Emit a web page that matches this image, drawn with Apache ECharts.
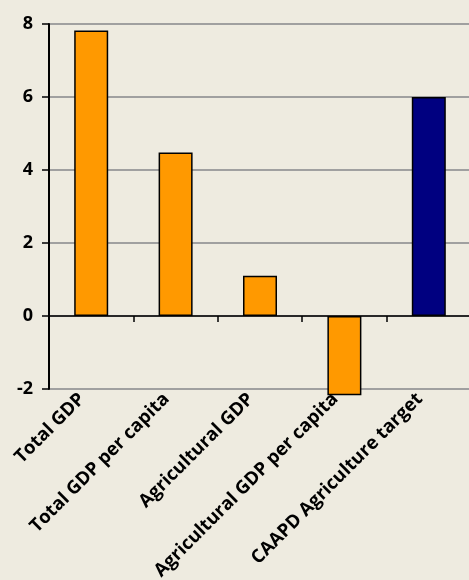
<!DOCTYPE html>
<html>
<head>
<meta charset="utf-8">
<script src="https://cdn.jsdelivr.net/npm/echarts@6/dist/echarts.min.js"></script>
<style>
html,body{margin:0;padding:0;background:#EEEBE0;}
#chart{width:469px;height:580px;}
</style>
</head>
<body>
<div id="chart"></div>
<script>
const categories = ["Total GDP", "Total GDP per capita", "Agricultural GDP", "Agricultural GDP per capita", "CAAPD Agriculture target"];
const values = [7.82, 4.48, 1.1, -2.17, 6.0];
const barColors = ["#FF9900", "#FF9900", "#FF9900", "#FF9900", "#000080"];
const yTicks = [-2, 0, 2, 4, 6, 8];

const chart = echarts.init(document.getElementById('chart'), null, {renderer: 'canvas'});
const font = '"Open Sans", "DejaVu Sans", sans-serif';
chart.setOption({
  backgroundColor: '#EEEBE0',
  animation: false,
  grid: {left: 49, right: -2, top: 24, bottom: 191, containLabel: false, outerBoundsMode: 'none'},
  xAxis: [
    {
      type: 'category', data: categories, position: 'bottom',
      axisLine: {show: false, onZero: false}, axisTick: {show: false},
      axisLabel: {rotate: 45, interval: 0, margin: -2, padding: [0, 13, 0, 0], fontFamily: font, fontWeight: 'bold', fontSize: 18.5, color: '#000'}
    },
    {
      type: 'category', data: categories, position: 'bottom',
      axisLine: {show: true, onZero: true, lineStyle: {color: '#000', width: 1.5}},
      axisTick: {show: true, interval: 0, length: 6, inside: false, lineStyle: {color: '#000', width: 1.5}},
      axisLabel: {show: false, interval: 0}
    }
  ],
  yAxis: {
    type: 'value', min: yTicks[0], max: yTicks[yTicks.length - 1], interval: 2,
    axisLine: {show: true, lineStyle: {color: '#000', width: 2}},
    axisTick: {show: true, length: 7, lineStyle: {color: '#000', width: 1.5}},
    axisLabel: {margin: 16, fontFamily: font, fontWeight: 'bold', fontSize: 18, color: '#000'},
    splitLine: {show: true, lineStyle: {color: '#A0A0A0', width: 2}}
  },
  series: [{
    type: 'bar', xAxisIndex: 0, barWidth: 34, clip: false,
    data: values.map((v, i) => ({value: v, itemStyle: {color: barColors[i]}})),
    itemStyle: {borderColor: '#000', borderWidth: 1.5}
  }]
});
</script>
</body>
</html>
